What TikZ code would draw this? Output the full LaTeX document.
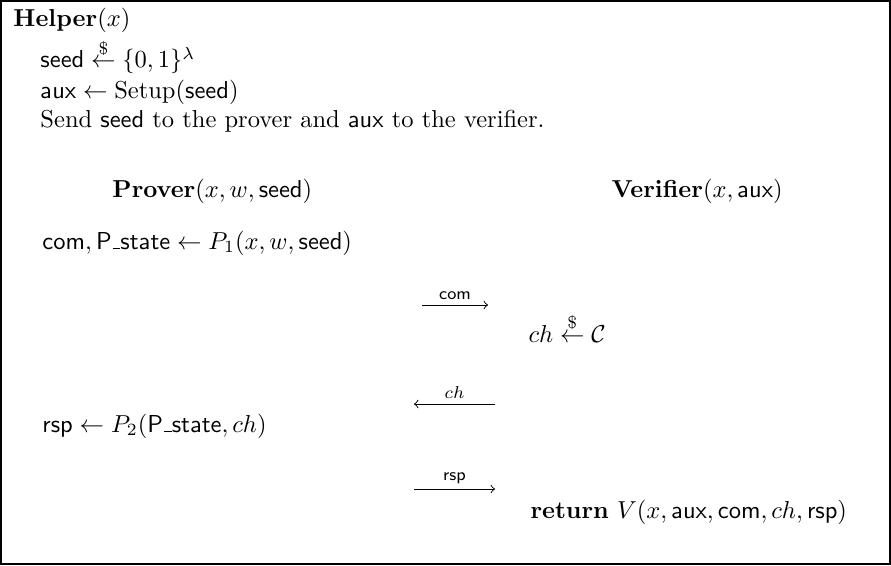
\documentclass[tikz,border=0pt]{standalone}
\usepackage{amsmath}
\newcommand{\uscore}{\leavevmode\kern.06em\vbox{\hrule width.3em}}
\begin{document}
\begin{tikzpicture}[x=0.408pt,y=-0.408pt,
  txt/.style={anchor=base west, inner sep=0pt},
  msg/.style={->, >=to, line width=0.4pt},
  lbl/.style={above, inner sep=2pt, font=\scriptsize}]
\path[use as bounding box] (0,0) rectangle (891,565);
\draw[line width=0.5pt] (1,1) rectangle (890,564);
% helper
\node[txt] (helper) at (13,27) {$\mathbf{Helper}(x)$};
\node[txt] (seed) at (40,68) {$\mathsf{seed} \stackrel{\$}{\leftarrow} \{0,1\}^\lambda$};
\node[txt] (aux) at (40,98) {$\mathsf{aux} \leftarrow \mathrm{Setup}(\mathsf{seed})$};
\node[txt] (send) at (40,127) {Send \textsf{seed} to the prover and \textsf{aux} to the verifier.};
% parties
\node[txt] (prover) at (112,197) {$\mathbf{Prover}(x, w, \mathsf{seed})$};
\node[txt] (verifier) at (611,197) {$\mathbf{Verifier}(x, \mathsf{aux})$};
% steps
\node[txt] (p1) at (42,249) {$\mathsf{com}, \textsf{P\uscore state} \leftarrow P_1(x, w, \mathsf{seed})$};
\node[txt] (chs) at (528,342) {$ch \stackrel{\$}{\leftarrow} \mathcal{C}$};
\node[txt] (p2) at (42,432) {$\mathsf{rsp} \leftarrow P_2(\textsf{P\uscore state}, ch)$};
\node[txt] (ret) at (530,518) {$\mathbf{return}\ V(x, \mathsf{aux}, \mathsf{com}, ch, \mathsf{rsp})$};
% messages
\coordinate (m1a) at (422,305); \coordinate (m1b) at (488,305);
\coordinate (m2a) at (495,404); \coordinate (m2b) at (414,404);
\coordinate (m3a) at (414,489); \coordinate (m3b) at (495,489);
\draw[msg] (m1a) -- node[lbl] {\textsf{com}} (m1b);
\draw[msg] (m2a) -- node[lbl] {$ch$} (m2b);
\draw[msg] (m3a) -- node[lbl] {\textsf{rsp}} (m3b);
\end{tikzpicture}
\end{document}
